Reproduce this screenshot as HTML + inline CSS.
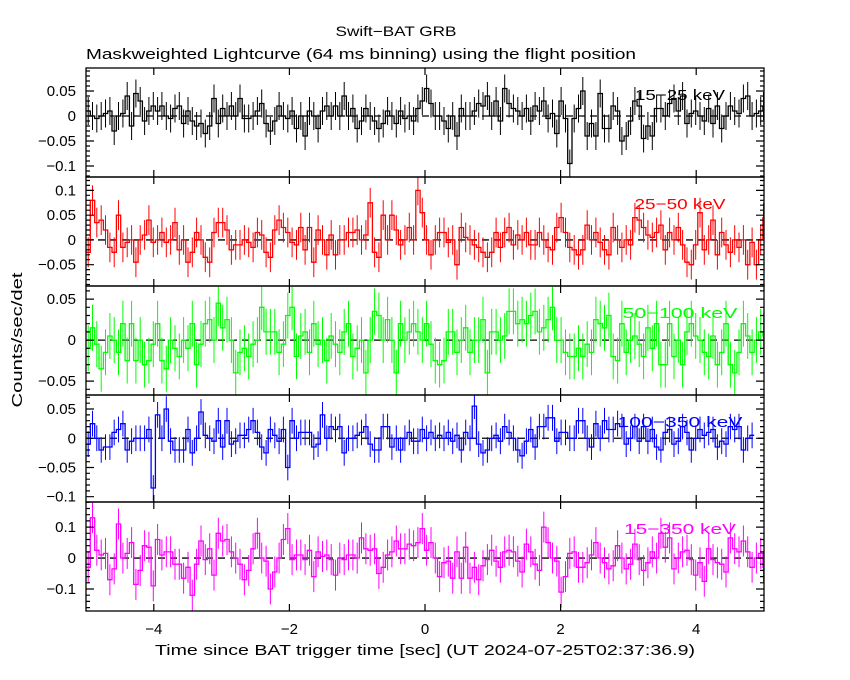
<!DOCTYPE html>
<html><head><meta charset="utf-8"><style>
html,body{margin:0;padding:0;background:#fff;}
svg{display:block;font-family:"Liberation Sans",sans-serif;}
</style></head><body>
<svg id="chart" width="850" height="680" xmlns="http://www.w3.org/2000/svg">
<text x="396" y="36" font-size="14" text-anchor="middle" textLength="121" lengthAdjust="spacingAndGlyphs">Swift−BAT GRB</text>
<text x="361" y="59" font-size="15" text-anchor="middle" textLength="550" lengthAdjust="spacingAndGlyphs">Maskweighted Lightcurve (64 ms binning) using the flight position</text>
<text x="0" y="0" font-size="15" text-anchor="middle" textLength="135" lengthAdjust="spacingAndGlyphs" transform="translate(22,340) rotate(-90)">Counts/sec/det</text>
<text x="425" y="655" font-size="15" text-anchor="middle" textLength="540" lengthAdjust="spacingAndGlyphs">Time since BAT trigger time [sec] (UT 2024-07-25T02:37:36.9)</text>
<g id="plots"></g>
</svg>
<script>
// values in milli counts/sec/det, 64 ms bins starting at -5 s
const p1Values=[10,0,-5,0,5,10,-30,0,5,40,-20,45,30,-10,10,20,10,20,0,-5,15,20,-15,10,-10,-20,-15,-35,-20,35,-15,15,0,20,0,35,-5,-5,0,10,25,-15,-30,-10,20,0,-5,10,-25,0,-40,10,0,-25,10,20,0,20,0,40,0,15,-25,-10,15,0,-10,-25,-15,10,0,-15,10,-5,0,-10,15,30,55,25,0,0,-10,-25,0,-40,15,0,0,10,25,20,40,0,30,-10,55,25,15,10,0,15,-10,20,10,30,-5,5,-35,30,-5,-95,-5,15,50,-40,-15,-40,45,-25,-25,20,10,-50,-40,-10,30,20,-45,-20,-40,15,15,0,25,35,10,40,-15,5,10,0,-10,15,-15,20,-25,0,20,10,5,35,40,0,5,10,20,-10,15,30,0,10,-5,25,40,5,0,10,15,-10,20,25,5,0];
const p2Values=[-25,80,35,40,20,-15,-25,50,-15,-5,0,-45,0,10,40,-5,0,15,-5,0,35,-20,0,-45,-25,15,0,-35,-45,15,35,35,20,-20,-10,-10,0,-5,-15,15,10,-25,-35,20,40,25,15,-5,-10,25,-20,25,-45,20,0,-30,10,-30,0,0,15,15,20,0,10,75,-25,-35,50,0,50,20,-10,0,25,0,100,55,0,-30,0,15,15,-5,0,-50,25,5,0,-10,-15,-25,-35,-25,15,-15,15,25,-10,10,0,15,-10,-10,15,0,-15,-20,25,45,15,-15,-20,-30,-20,30,0,15,-5,-20,-30,25,0,-15,0,-10,45,40,25,10,5,15,30,-20,15,0,25,-10,-45,-50,-10,55,-20,0,40,-30,15,-10,-25,0,-15,0,-50,-5,-50,0,45,-15,30,0,10];
const p3Values=[-10,15,-5,-35,-15,5,0,-15,20,-25,20,-25,0,-30,-25,-5,20,-25,-35,0,-10,-20,0,-10,20,-30,-5,20,25,0,45,15,25,0,-40,-15,-10,-20,-5,0,40,10,10,10,-15,-5,30,40,-20,5,10,-15,20,-5,0,-25,5,-5,-15,10,20,-20,-10,0,-40,0,35,30,0,25,0,-40,20,0,10,20,10,0,20,-5,-25,-30,-25,10,10,-15,0,15,-15,0,0,25,-40,10,10,0,5,35,35,20,25,20,30,35,10,15,25,40,0,0,-15,-20,-20,-10,-20,-5,-15,25,20,15,30,-20,-25,20,-15,0,5,-5,-20,15,-10,20,-30,-30,20,-20,0,-30,10,20,5,0,-15,-20,5,-30,-15,20,-30,-40,-15,20,5,-15,0,10,5,25];
const p4Values=[-10,25,0,-20,-15,-15,10,15,25,-20,-5,0,0,0,15,-85,40,0,50,-5,-20,-20,-20,15,-25,0,45,5,0,-5,30,-15,30,-10,-5,5,5,15,30,10,-15,-25,15,5,-5,15,-50,30,0,10,10,10,-15,-10,40,0,20,15,20,-25,0,0,5,10,20,-10,-20,-20,20,20,-15,0,-20,0,10,-5,-5,15,0,10,0,5,0,10,-5,5,-20,10,0,55,-10,-25,-20,0,5,-5,20,10,0,-20,-30,-5,15,-15,20,20,35,35,-5,10,10,0,0,30,30,0,-15,25,0,30,15,15,25,20,-10,0,20,-5,20,-5,15,-15,-20,10,15,-10,-5,20,10,-20,0,15,5,10,15,-15,-5,-10,20,15,20,-20,0,5];
const p5Values=[-30,130,25,10,15,-70,-35,110,0,15,50,-85,-40,40,35,-90,60,10,20,20,-20,-20,-65,-30,-120,-20,55,-5,30,-55,80,55,60,20,0,-20,-70,-40,30,80,0,-10,-100,-45,0,60,95,-5,10,10,-5,25,-60,20,5,10,-5,-55,0,-5,10,10,0,65,30,25,30,-50,-30,10,20,55,30,30,45,40,50,95,25,50,0,-60,-15,-10,-65,20,-65,35,-65,-30,-70,-25,-5,25,-10,-30,20,25,20,-10,-45,45,20,-20,-40,100,50,0,-10,-110,-60,15,20,-30,-30,-15,10,50,0,-15,-35,-25,40,0,-35,-20,45,-5,-40,-15,20,0,80,35,65,-35,0,20,25,-5,-55,-15,-75,30,-5,-15,-20,-45,65,30,20,55,20,-30,0,15,-30,0,-30,20,90,0,-20,20];
const panelErrors=[28,30,28,22,50];
const panelLabels=["15−25 keV","25−50 keV","50−100 keV","100−350 keV","15−350 keV"];
const labelWidths=[90,91,115,125,112];
const yTickValues=[[50,0,-50,-100],[100,50,0,-50],[50,0,-50],[50,0,-50,-100],[100,0,-100]];
const yTickLabels=[["0.05","0","−0.05","−0.1"],["0.1","0.05","0","−0.05"],["0.05","0","−0.05"],["0.05","0","−0.05","−0.1"],["0.1","0","−0.1"]];
const xTickValues=[-4,-2,0,2,4];
const xTickLabels=["−4","−2","0","2","4"];
const binSize=0.064;
const tStart=-5;

const NS="http://www.w3.org/2000/svg";
const series=[p1Values,p2Values,p3Values,p4Values,p5Values];
const colors=["#000","#ff0000","#00ff00","#0000ff","#ff00ff"];
const panels=[{top:68,bot:177,ymax:96,ymin:-122,minor:10},{top:177,bot:286,ymax:127,ymin:-93,minor:10},{top:286,bot:395,ymax:66,ymin:-67,minor:10},{top:395,bot:502,ymax:74,ymin:-109,minor:10},{top:502,bot:611,ymax:181,ymin:-171,minor:20}];
const X0=86,X1=764;
const xScale=t=>X0+(t-(-5))/10*(X1-X0);
const g=document.getElementById('plots');
function mk(tag,attrs){const e=document.createElementNS(NS,tag);for(const k in attrs)e.setAttribute(k,attrs[k]);g.appendChild(e);return e;}
panels.forEach((p,pi)=>{
  const yS=v=>p.top+(p.ymax-v)/(p.ymax-p.ymin)*(p.bot-p.top);
  const vals=series[pi];const col=colors[pi];const err=panelErrors[pi];
  const z=mk('line',{x1:X0,x2:X1,y1:yS(0),y2:yS(0),stroke:'#000','stroke-width':1.3,'stroke-dasharray':'7,5'});
  
  
  let d='';
  const ebars=[];
  for(let i=0;i<vals.length;i++){
    const t0=tStart+i*binSize; if(t0>=5)break;
    const t1=Math.min(5,t0+binSize);
    const x0=xScale(t0),x1=xScale(t1),y=Math.max(p.top,Math.min(p.bot,yS(vals[i])));
    d+=(i===0?'M':'L')+x0.toFixed(1)+','+y.toFixed(1)+'L'+x1.toFixed(1)+','+y.toFixed(1);
    const xc=(x0+x1)/2;
    ebars.push('M'+xc.toFixed(1)+','+Math.max(p.top,yS(vals[i]+err)).toFixed(1)+'V'+Math.min(p.bot,yS(vals[i]-err)).toFixed(1));
  }
  const eb=mk('path',{d:ebars.join(''),stroke:col,'stroke-width':1,fill:'none'});
  
  
  const ln=mk('path',{d:d,stroke:col,'stroke-width':1.3,fill:'none'});
  
  
  const fr=mk('rect',{x:X0,y:p.top,width:X1-X0,height:p.bot-p.top,fill:'none',stroke:'#000','stroke-width':1.3});
  
  
  let tk='';
  for(let v=Math.ceil(p.ymin/p.minor)*p.minor;v<=p.ymax;v+=p.minor){
    const major=yTickValues[pi].includes(v);const L=major?8:4;const y=yS(v).toFixed(1);
    tk+='M'+X0+','+y+'h'+L+'M'+X1+','+y+'h'+(-L);
  }
  xTickValues.forEach(t=>{const x=xScale(t).toFixed(1);tk+='M'+x+','+p.top+'v7M'+x+','+p.bot+'v-7';});
  const tp=mk('path',{d:tk,stroke:'#000','stroke-width':1.2,fill:'none'});
  
  
  yTickValues[pi].forEach((v,k)=>{
    const tx=mk('text',{x:76,y:yS(v)+5,'font-size':15,'text-anchor':'end'});
    tx.textContent=yTickLabels[pi][k];
    
    
  });
  const lb=mk('text',{x:680,y:p.top+32,'font-size':15,'text-anchor':'middle',fill:col,textLength:labelWidths[pi],lengthAdjust:'spacingAndGlyphs'});
  lb.textContent=panelLabels[pi];
  
  
});
xTickValues.forEach((t,k)=>{
  const tx=mk('text',{x:xScale(t),y:634,'font-size':15,'text-anchor':'middle'});
  tx.textContent=xTickLabels[k];
  
  
});
</script>
</body></html>
